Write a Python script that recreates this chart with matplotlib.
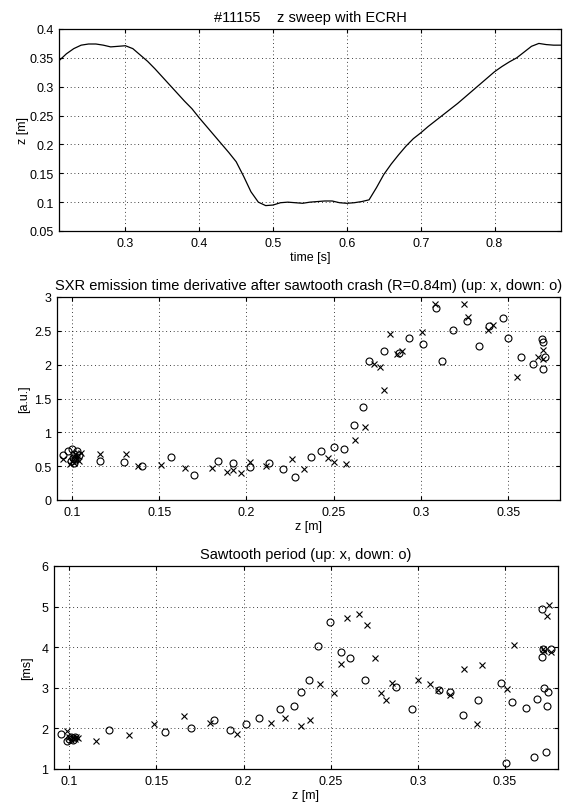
import matplotlib
matplotlib.use("Agg")
import matplotlib.pyplot as plt
from matplotlib.ticker import FuncFormatter, MultipleLocator

plt.rcParams['font.family'] = ['Liberation Sans', 'DejaVu Sans']

# ---- Panel 1: z sweep vs time ----
time_s = [0.21, 0.22, 0.23, 0.24, 0.25, 0.26, 0.27, 0.28, 0.29, 0.30,
          0.31, 0.32, 0.33, 0.34, 0.35, 0.36, 0.37, 0.38, 0.39, 0.40,
          0.41, 0.42, 0.43, 0.44, 0.45, 0.46, 0.47, 0.48, 0.49, 0.50,
          0.51, 0.52, 0.53, 0.54, 0.55, 0.56, 0.57, 0.58, 0.59, 0.60,
          0.61, 0.62, 0.63, 0.64, 0.65, 0.66, 0.67, 0.68, 0.69, 0.70,
          0.71, 0.72, 0.73, 0.74, 0.75, 0.76, 0.77, 0.78, 0.79, 0.80,
          0.81, 0.82, 0.83, 0.84, 0.85, 0.86, 0.87, 0.88, 0.89]
z_m = [0.345, 0.357, 0.366, 0.372, 0.374, 0.374, 0.372, 0.369, 0.370, 0.371,
       0.366, 0.355, 0.344, 0.331, 0.317, 0.303, 0.289, 0.275, 0.262, 0.246,
       0.231, 0.216, 0.201, 0.186, 0.170, 0.145, 0.118, 0.100, 0.094, 0.095,
       0.099, 0.100, 0.099, 0.098, 0.100, 0.101, 0.102, 0.102, 0.099, 0.098,
       0.099, 0.101, 0.104, 0.125, 0.148, 0.166, 0.182, 0.197, 0.210, 0.220,
       0.231, 0.241, 0.251, 0.261, 0.271, 0.282, 0.293, 0.304, 0.315, 0.326,
       0.335, 0.343, 0.350, 0.360, 0.370, 0.375, 0.373, 0.372, 0.372]

# ---- Panel 2: SXR emission time derivative ----
sxr_up_z = [0.0948, 0.099, 0.100, 0.101, 0.1015, 0.102, 0.103, 0.104, 0.105, 0.1035,
            0.116, 0.131, 0.138, 0.151, 0.165, 0.180, 0.189, 0.192, 0.197, 0.202,
            0.211, 0.226, 0.233, 0.2467, 0.250, 0.257, 0.262, 0.2676, 0.273, 0.2767,
            0.279, 0.282, 0.286, 0.289, 0.3007, 0.308, 0.3246, 0.327, 0.338, 0.341,
            0.3546, 0.367, 0.3699, 0.370]
sxr_up_v = [0.60, 0.53, 0.58, 0.63, 0.55, 0.68, 0.60, 0.57, 0.69, 0.65,
            0.68, 0.68, 0.50, 0.52, 0.47, 0.47, 0.41, 0.45, 0.40, 0.555,
            0.505, 0.61, 0.46, 0.62, 0.56, 0.535, 0.88, 1.08, 2.01, 1.96,
            1.62, 2.45, 2.16, 2.20, 2.48, 2.89, 2.90, 2.71, 2.51, 2.59,
            1.82, 2.11, 2.22, 2.08]
sxr_dn_z = [0.0948, 0.098, 0.100, 0.1005, 0.101, 0.102, 0.103, 0.1015, 0.104, 0.0995,
            0.116, 0.130, 0.140, 0.1566, 0.170, 0.1834, 0.192, 0.202, 0.213, 0.221,
            0.228, 0.237, 0.2425, 0.250, 0.256, 0.2618, 0.2666, 0.270, 0.279, 0.2876,
            0.293, 0.301, 0.3085, 0.3117, 0.318, 0.326, 0.333, 0.339, 0.347, 0.350,
            0.357, 0.364, 0.369, 0.3695, 0.371, 0.370]
sxr_dn_v = [0.665, 0.72, 0.75, 0.62, 0.68, 0.60, 0.72, 0.55, 0.66, 0.58,
            0.57, 0.56, 0.50, 0.635, 0.37, 0.58, 0.545, 0.485, 0.545, 0.46,
            0.337, 0.63, 0.72, 0.78, 0.755, 1.105, 1.38, 2.05, 2.20, 2.17,
            2.40, 2.305, 2.84, 2.06, 2.51, 2.64, 2.28, 2.57, 2.69, 2.40,
            2.11, 2.01, 2.38, 2.33, 2.11, 1.94]

# ---- Panel 3: Sawtooth period ----
saw_up_z = [0.0985, 0.100, 0.101, 0.102, 0.103, 0.104, 0.105,
            0.1155, 0.1345, 0.1485, 0.166, 0.181, 0.196, 0.216, 0.224, 0.233,
            0.238, 0.244, 0.252, 0.2557, 0.2596, 0.266, 0.271, 0.2757, 0.2787,
            0.282, 0.285, 0.300, 0.3068, 0.3117, 0.3187, 0.3266, 0.334, 0.337,
            0.351, 0.3553, 0.372, 0.3725, 0.374, 0.3766, 0.3755]
saw_up_v = [1.93, 1.80, 1.72, 1.78, 1.75, 1.80, 1.77,
            1.69, 1.83, 2.10, 2.30, 2.14, 1.87, 2.14, 2.26, 2.06,
            2.20, 3.09, 2.87, 3.59, 4.72, 4.82, 4.55, 3.74, 2.87,
            2.69, 3.12, 3.18, 3.09, 2.95, 2.83, 3.47, 2.10, 3.57,
            2.98, 4.05, 3.95, 3.90, 4.78, 3.87, 5.05]
saw_dn_z = [0.0955, 0.0985, 0.100, 0.101, 0.102, 0.103,
            0.123, 0.155, 0.170, 0.183, 0.192, 0.2013, 0.209, 0.221, 0.2287,
            0.233, 0.2377, 0.2426, 0.2496, 0.256, 0.2613, 0.2698, 0.2877, 0.2968,
            0.312, 0.3187, 0.326, 0.3345, 0.348, 0.354, 0.3505, 0.362, 0.3685,
            0.367, 0.3735, 0.3713, 0.3713, 0.3718, 0.3723, 0.374, 0.3745, 0.3766]
saw_dn_v = [1.85, 1.70, 1.75, 1.80, 1.72, 1.78,
            1.955, 1.91, 2.00, 2.20, 1.955, 2.10, 2.26, 2.47, 2.56,
            2.89, 3.18, 4.03, 4.63, 3.87, 3.74, 3.18, 3.02, 2.48,
            2.95, 2.89, 2.33, 2.70, 3.12, 2.66, 1.14, 2.50, 2.72,
            1.29, 1.42, 4.95, 3.76, 3.95, 3.00, 2.56, 2.89, 3.95]

fmt = FuncFormatter(lambda v, p: ('%g' % round(v, 6)))

fig = plt.figure(figsize=(5.78, 8.03), dpi=100)

TICK_FS = 9
TITLE_FS = 10.5

def style(ax):
    ax.grid(True, linestyle=(0, (1, 3.5)), color='black', linewidth=0.6)
    ax.tick_params(direction='in', top=True, right=True, length=3,
                   width=0.8, labelsize=TICK_FS, pad=4)
    for s in ax.spines.values():
        s.set_linewidth(0.9)
    ax.xaxis.set_major_formatter(fmt)
    ax.yaxis.set_major_formatter(fmt)

ax1 = fig.add_axes([59/578, 1-232/803, 502/578, 202/803])
ax1.plot(time_s, z_m, color='black', linewidth=0.9)
ax1.set_xlim(0.21, 0.89)
ax1.set_ylim(0.05, 0.4)
ax1.xaxis.set_major_locator(MultipleLocator(0.1))
ax1.yaxis.set_major_locator(MultipleLocator(0.05))
style(ax1)
ax1.set_title('#11155    z sweep with ECRH', fontsize=TITLE_FS, pad=6)
ax1.set_xlabel('time [s]', fontsize=TICK_FS, labelpad=2)
ax1.set_ylabel('z [m]', fontsize=TICK_FS, labelpad=0)

mk = dict(linestyle='none', color='black', markersize=5, markeredgewidth=0.8)

ax2 = fig.add_axes([57/578, 1-501/803, 503/578, 203/803])
ax2.plot(sxr_up_z, sxr_up_v, marker='x', **mk)
ax2.plot(sxr_dn_z, sxr_dn_v, marker='o', markerfacecolor='none', **mk)
ax2.set_xlim(0.0915, 0.3795)
ax2.set_ylim(0, 3)
ax2.xaxis.set_major_locator(MultipleLocator(0.05))
ax2.yaxis.set_major_locator(MultipleLocator(0.5))
style(ax2)
ax2.set_title('SXR emission time derivative after sawtooth crash (R=0.84m) (up: x, down: o)',
              fontsize=TITLE_FS, pad=6)
ax2.set_xlabel('z [m]', fontsize=TICK_FS, labelpad=2)
ax2.set_ylabel('[a.u.]', fontsize=TICK_FS, labelpad=3)

ax3 = fig.add_axes([54/578, 1-770/803, 504/578, 203/803])
ax3.plot(saw_up_z, saw_up_v, marker='x', **mk)
ax3.plot(saw_dn_z, saw_dn_v, marker='o', markerfacecolor='none', **mk)
ax3.set_xlim(0.0912, 0.3805)
ax3.set_ylim(1, 6)
ax3.xaxis.set_major_locator(MultipleLocator(0.05))
ax3.yaxis.set_major_locator(MultipleLocator(1))
style(ax3)
ax3.set_title('Sawtooth period (up: x, down: o)', fontsize=TITLE_FS, pad=6)
ax3.set_xlabel('z [m]', fontsize=TICK_FS, labelpad=2)
ax3.set_ylabel('[ms]', fontsize=TICK_FS, labelpad=6)

fig.savefig('out.png', dpi=100)
